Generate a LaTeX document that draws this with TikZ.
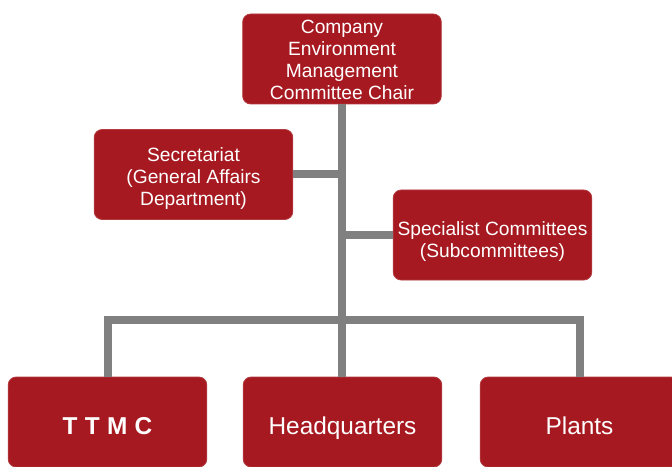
\documentclass[tikz,border=0pt]{standalone}
\usepackage{fontspec}
\setmainfont{Liberation Sans}
\usetikzlibrary{calc}

\definecolor{boxred}{RGB}{166,25,32}
\definecolor{linkgray}{RGB}{128,128,128}

% invisible strut to push a block of lines down inside its box
\newcommand{\dropstrut}[1]{\rule{0pt}{#1}}

\tikzset{
    orgbox/.style={fill=boxred, draw=boxred!85!white, line width=0.6pt, rounded corners=6pt,
        minimum width=149pt, minimum height=67.5pt, align=center, text=white, inner sep=2pt,
        font=\fontsize{14.4}{16.5}\selectfont},
    bigbox/.style={orgbox, font=\fontsize{18.3}{21}\selectfont, text height=22.5pt, text depth=4pt},
    link/.style={draw=linkgray, line width=6pt}
}

\begin{document}
\begin{tikzpicture}[x=0.75pt,y=-0.75pt]
            \clip (0,0) rectangle (672,467);
            \useasboundingbox (0,0) rectangle (672,467);

            \node[orgbox] (chair) at (342,59) {\dropstrut{11.5pt}Company\\Environment\\Management\\Committee Chair};
            \node[orgbox] (secr) at (193.5,174.5) {\dropstrut{16.5pt}Secretariat\\(General Affairs\\Department)};
            \node[orgbox] (spec) at (492.5,235) {\dropstrut{19.5pt}Specialist Committees\\(Subcommittees)};

            \node[bigbox] (ttmc) at (107.5,422) {\textbf{T\hspace{0.3em}T\hspace{0.3em}M\hspace{0.3em}C}};
            \node[bigbox] (hq) at (342.5,422) {Headquarters};
            \node[bigbox] (plants) at (579.5,422) {Plants};

            \coordinate (bar) at (342,320);

            \draw[link] (chair.south) -- (chair.south |- hq.north);
            \draw[link] (secr.east) -- (secr.east -| chair.south);
            \draw[link] (spec.west) -- (spec.west -| chair.south);
            \draw[link] (ttmc.north) |- (bar) -| (plants.north);
        \end{tikzpicture}
\end{document}
